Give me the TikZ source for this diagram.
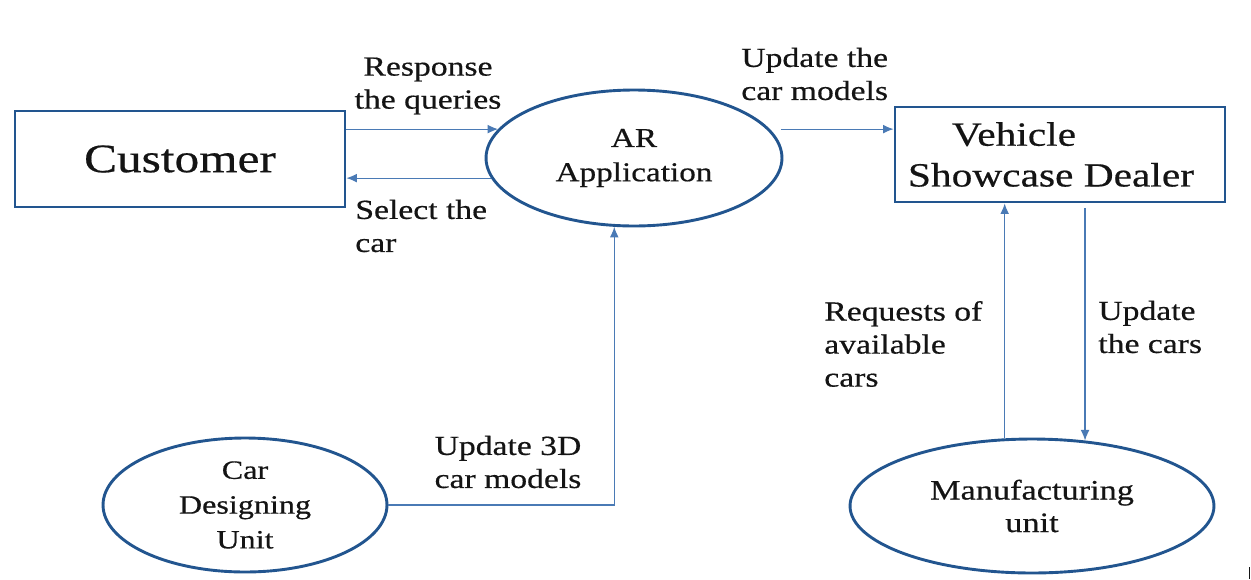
\documentclass[tikz,border=0pt]{standalone}
\usepackage{fontspec}
\setmainfont{Liberation Serif}[FakeStretch=1.22,FakeBold=0.5]
\usetikzlibrary{shapes.geometric,arrows.meta,calc}
\definecolor{bord}{HTML}{22558F}
\definecolor{arrc}{HTML}{4A7AB5}
\definecolor{txt}{HTML}{141414}
\begin{document}
\begin{tikzpicture}[x=0.02cm,y=-0.02cm,
  boxnode/.style={draw=bord,line width=0.058cm,rectangle,inner sep=0pt,text=txt},
  ellnode/.style={draw=bord,line width=0.058cm,ellipse,inner sep=0pt},
  elltext/.style={text=txt,align=center,font=\fontsize{15.5}{19.5}\selectfont},
  lbl/.style={text=txt,inner sep=0pt,font=\fontsize{15.7}{18.8}\selectfont},
  arr/.style={draw=arrc,line width=0.65pt,-{Latex[length=6pt,width=5pt]}}]
\useasboundingbox[fill=white] (0,0) rectangle (1251,579);

\node[boxnode,minimum width=6.6cm,minimum height=1.92cm,font=\fontsize{23}{27}\selectfont] (cust) at (180,159) {Customer};
\node[boxnode,minimum width=6.6cm,minimum height=1.9cm,align=left,font=\fontsize{19.3}{23.2}\selectfont] (veh) at (1060,154.5) {\hspace*{0.88cm}Vehicle\\Showcase Dealer\hspace*{0.36cm}};
\node[ellnode,minimum width=5.92cm,minimum height=2.72cm,label={[elltext]center:AR\\Application}] (ar) at (634,158) {};
\node[ellnode,minimum width=5.68cm,minimum height=2.68cm,label={[elltext,font=\fontsize{15}{19.8}\selectfont]center:Car\\Designing\\Unit}] (cdu) at (245,505) {};
\node[ellnode,minimum width=7.28cm,minimum height=2.68cm,label={[elltext,font=\fontsize{16}{18.5}\selectfont]center:Manufacturing\\unit}] (mfg) at (1032,506) {};

\draw[arr] (cust.east |- ar.168) -- (ar.168);
\draw[arr] (ar.188) -- (cust.east |- ar.188);
\draw[arr] ([xshift=0.22cm]ar.12) -- (veh.west |- ar.12);
\draw[arr] (cdu.east) -| (ar.254);
\draw[arr] ([yshift=-0.1cm]veh.south -| mfg.51.6) -- (mfg.51.6);
\draw[arr] (mfg.112) -- (veh.south -| mfg.112);

\node[lbl,align=center] (l1) at (428,86) {Response\\the queries};
\node[lbl,align=left,anchor=west] (l2) at (355,226) {Select the\\car};
\node[lbl,align=left,anchor=west] (l3) at (741,74) {Update the\\car models};
\node[lbl,align=center] (l4) at (508,462) {Update 3D\\car models};
\node[lbl,align=left,anchor=west] (l5) at (824,344) {Requests of\\available\\cars};
\node[lbl,align=left,anchor=west] (l6) at (1098,327) {Update\\the cars};

\coordinate (t1) at (1249,567);
\coordinate (t2) at (1249,579);
\draw[txt,line width=0.5pt] (t1) -- (t2);
\end{tikzpicture}
\end{document}
